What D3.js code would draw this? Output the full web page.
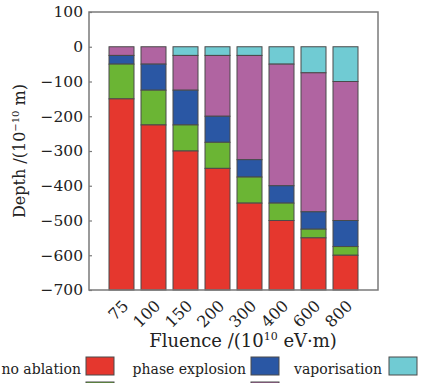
<!DOCTYPE html>
<html>
<head>
<meta charset="utf-8">
<script src="https://cdn.jsdelivr.net/npm/d3@7"></script>
<style>
  html, body { margin: 0; padding: 0; background: #fff; }
  svg { display: block; font-family: "DejaVu Serif", "Liberation Serif", serif; }
</style>
</head>
<body>
<svg id="chart" width="426" height="383"></svg>
<script>
// Fluence categories (10^10 eV·m)
const fluence = ["75", "100", "150", "200", "300", "400", "600", "800"];

// Layer thickness for each mechanism, in 10^-10 m, listed from the surface downward
const vaporisation  = [0, 0, 25, 25, 25, 50, 75, 100];
const fragmentation = [25, 50, 100, 175, 300, 350, 400, 400];
const phaseExplosion = [25, 75, 100, 75, 50, 50, 50, 75];
const spallation    = [100, 100, 75, 75, 75, 50, 25, 25];
const noAblation    = [550, 475, 400, 350, 250, 200, 150, 100];

const yTicks = [100, 0, -100, -200, -300, -400, -500, -600, -700];

const seriesKeys = ["vaporisation", "fragmentation", "phaseExplosion", "spallation", "noAblation"];
const seriesNames = {
  noAblation: "no ablation",
  phaseExplosion: "phase explosion",
  vaporisation: "vaporisation"
};
const colors = {
  noAblation: "#e5372e",
  spallation: "#6bb534",
  phaseExplosion: "#2a57a4",
  fragmentation: "#b064a1",
  vaporisation: "#70cbd3"
};

const rows = fluence.map((f, i) => ({
  fluence: f,
  vaporisation: vaporisation[i],
  fragmentation: fragmentation[i],
  phaseExplosion: phaseExplosion[i],
  spallation: spallation[i],
  noAblation: noAblation[i]
}));

const svg = d3.select("#chart");
const plotLeft = 89, plotRight = 378, plotTop = 12, plotBottom = 290;

const y = d3.scaleLinear().domain([100, -700]).range([plotTop, plotBottom]);
const x = d3.scaleBand()
  .domain(fluence)
  .range([plotLeft + 16.5, plotRight - 16.5])
  .paddingInner(7 / 32)
  .paddingOuter(7 / 64);

// Stack layers from the surface (0) downward
const stacked = d3.stack().keys(seriesKeys)(rows);

const layers = svg.append("g").selectAll("g")
  .data(stacked)
  .join("g")
  .attr("fill", d => colors[d.key]);

layers.selectAll("rect")
  .data(d => d.filter(s => s[1] - s[0] > 0))
  .join("rect")
  .attr("x", d => x(d.data.fluence))
  .attr("width", x.bandwidth())
  .attr("y", d => y(-d[0]))
  .attr("height", d => y(-d[1]) - y(-d[0]))
  .attr("stroke", "#4a4a4a")
  .attr("stroke-width", 1);

// Plot frame
svg.append("rect")
  .attr("x", plotLeft).attr("y", plotTop)
  .attr("width", plotRight - plotLeft).attr("height", plotBottom - plotTop)
  .attr("fill", "none")
  .attr("stroke", "#7a7a7a")
  .attr("stroke-width", 1.5);

// Y axis with short inward ticks
const yAxis = svg.append("g")
  .attr("transform", `translate(${plotLeft},0)`)
  .call(d3.axisLeft(y).tickValues(yTicks).tickSizeInner(-3).tickSizeOuter(0).tickPadding(6));
yAxis.select(".domain").remove();
yAxis.selectAll(".tick line").attr("stroke", "#7a7a7a").attr("stroke-width", 1.2);
yAxis.selectAll(".tick text")
  .attr("font-family", "DejaVu Serif, serif")
  .attr("font-size", 15.5)
  .attr("fill", "#222");

// Rotated fluence labels
svg.append("g").selectAll("text")
  .data(fluence)
  .join("text")
  .attr("transform", d => `translate(${x(d) + x.bandwidth() / 2 + 4},${303}) rotate(-45)`)
  .attr("text-anchor", "end")
  .attr("dy", "0.35em")
  .attr("font-size", 16)
  .attr("fill", "#222")
  .text(d => d);

// Axis titles
const xTitle = svg.append("text")
  .attr("x", 243).attr("y", 347)
  .attr("text-anchor", "middle")
  .attr("font-size", 18)
  .attr("fill", "#222");
xTitle.append("tspan").text("Fluence /(10");
xTitle.append("tspan").attr("font-size", 11).attr("dy", -7).text("10");
xTitle.append("tspan").attr("dy", 7).text(" eV\u00b7m)");

const yTitle = svg.append("text")
  .attr("transform", "translate(25,151) rotate(-90)")
  .attr("text-anchor", "middle")
  .attr("font-size", 16)
  .attr("fill", "#222");
yTitle.append("tspan").text("Depth /(10");
yTitle.append("tspan").attr("font-size", 10).attr("dy", -6).text("\u221210");
yTitle.append("tspan").attr("dy", 6).text(" m)");

// Legend: label to the left of each swatch; the second row runs past the bottom edge
const legendItems = [
  { key: "noAblation", sx: 86, row: 0, gap: 5 },
  { key: "phaseExplosion", sx: 251, row: 0, gap: 5 },
  { key: "vaporisation", sx: 389, row: 0, gap: 7 },
  { key: "spallation", sx: 86, row: 1, gap: 5 },
  { key: "fragmentation", sx: 251, row: 1, gap: 5 }
];
const legend = svg.append("g").selectAll("g")
  .data(legendItems)
  .join("g")
  .attr("transform", d => `translate(${d.sx},${357 + d.row * 25})`);
legend.append("rect")
  .attr("width", 28).attr("height", 18)
  .attr("fill", d => colors[d.key])
  .attr("stroke", "#4a4a4a")
  .attr("stroke-width", 1);
legend.filter(d => d.row === 0).append("text")
  .attr("x", d => -d.gap).attr("y", 16.5)
  .attr("text-anchor", "end")
  .attr("font-size", 14)
  .attr("fill", "#222")
  .text(d => seriesNames[d.key]);
</script>
</body>
</html>
